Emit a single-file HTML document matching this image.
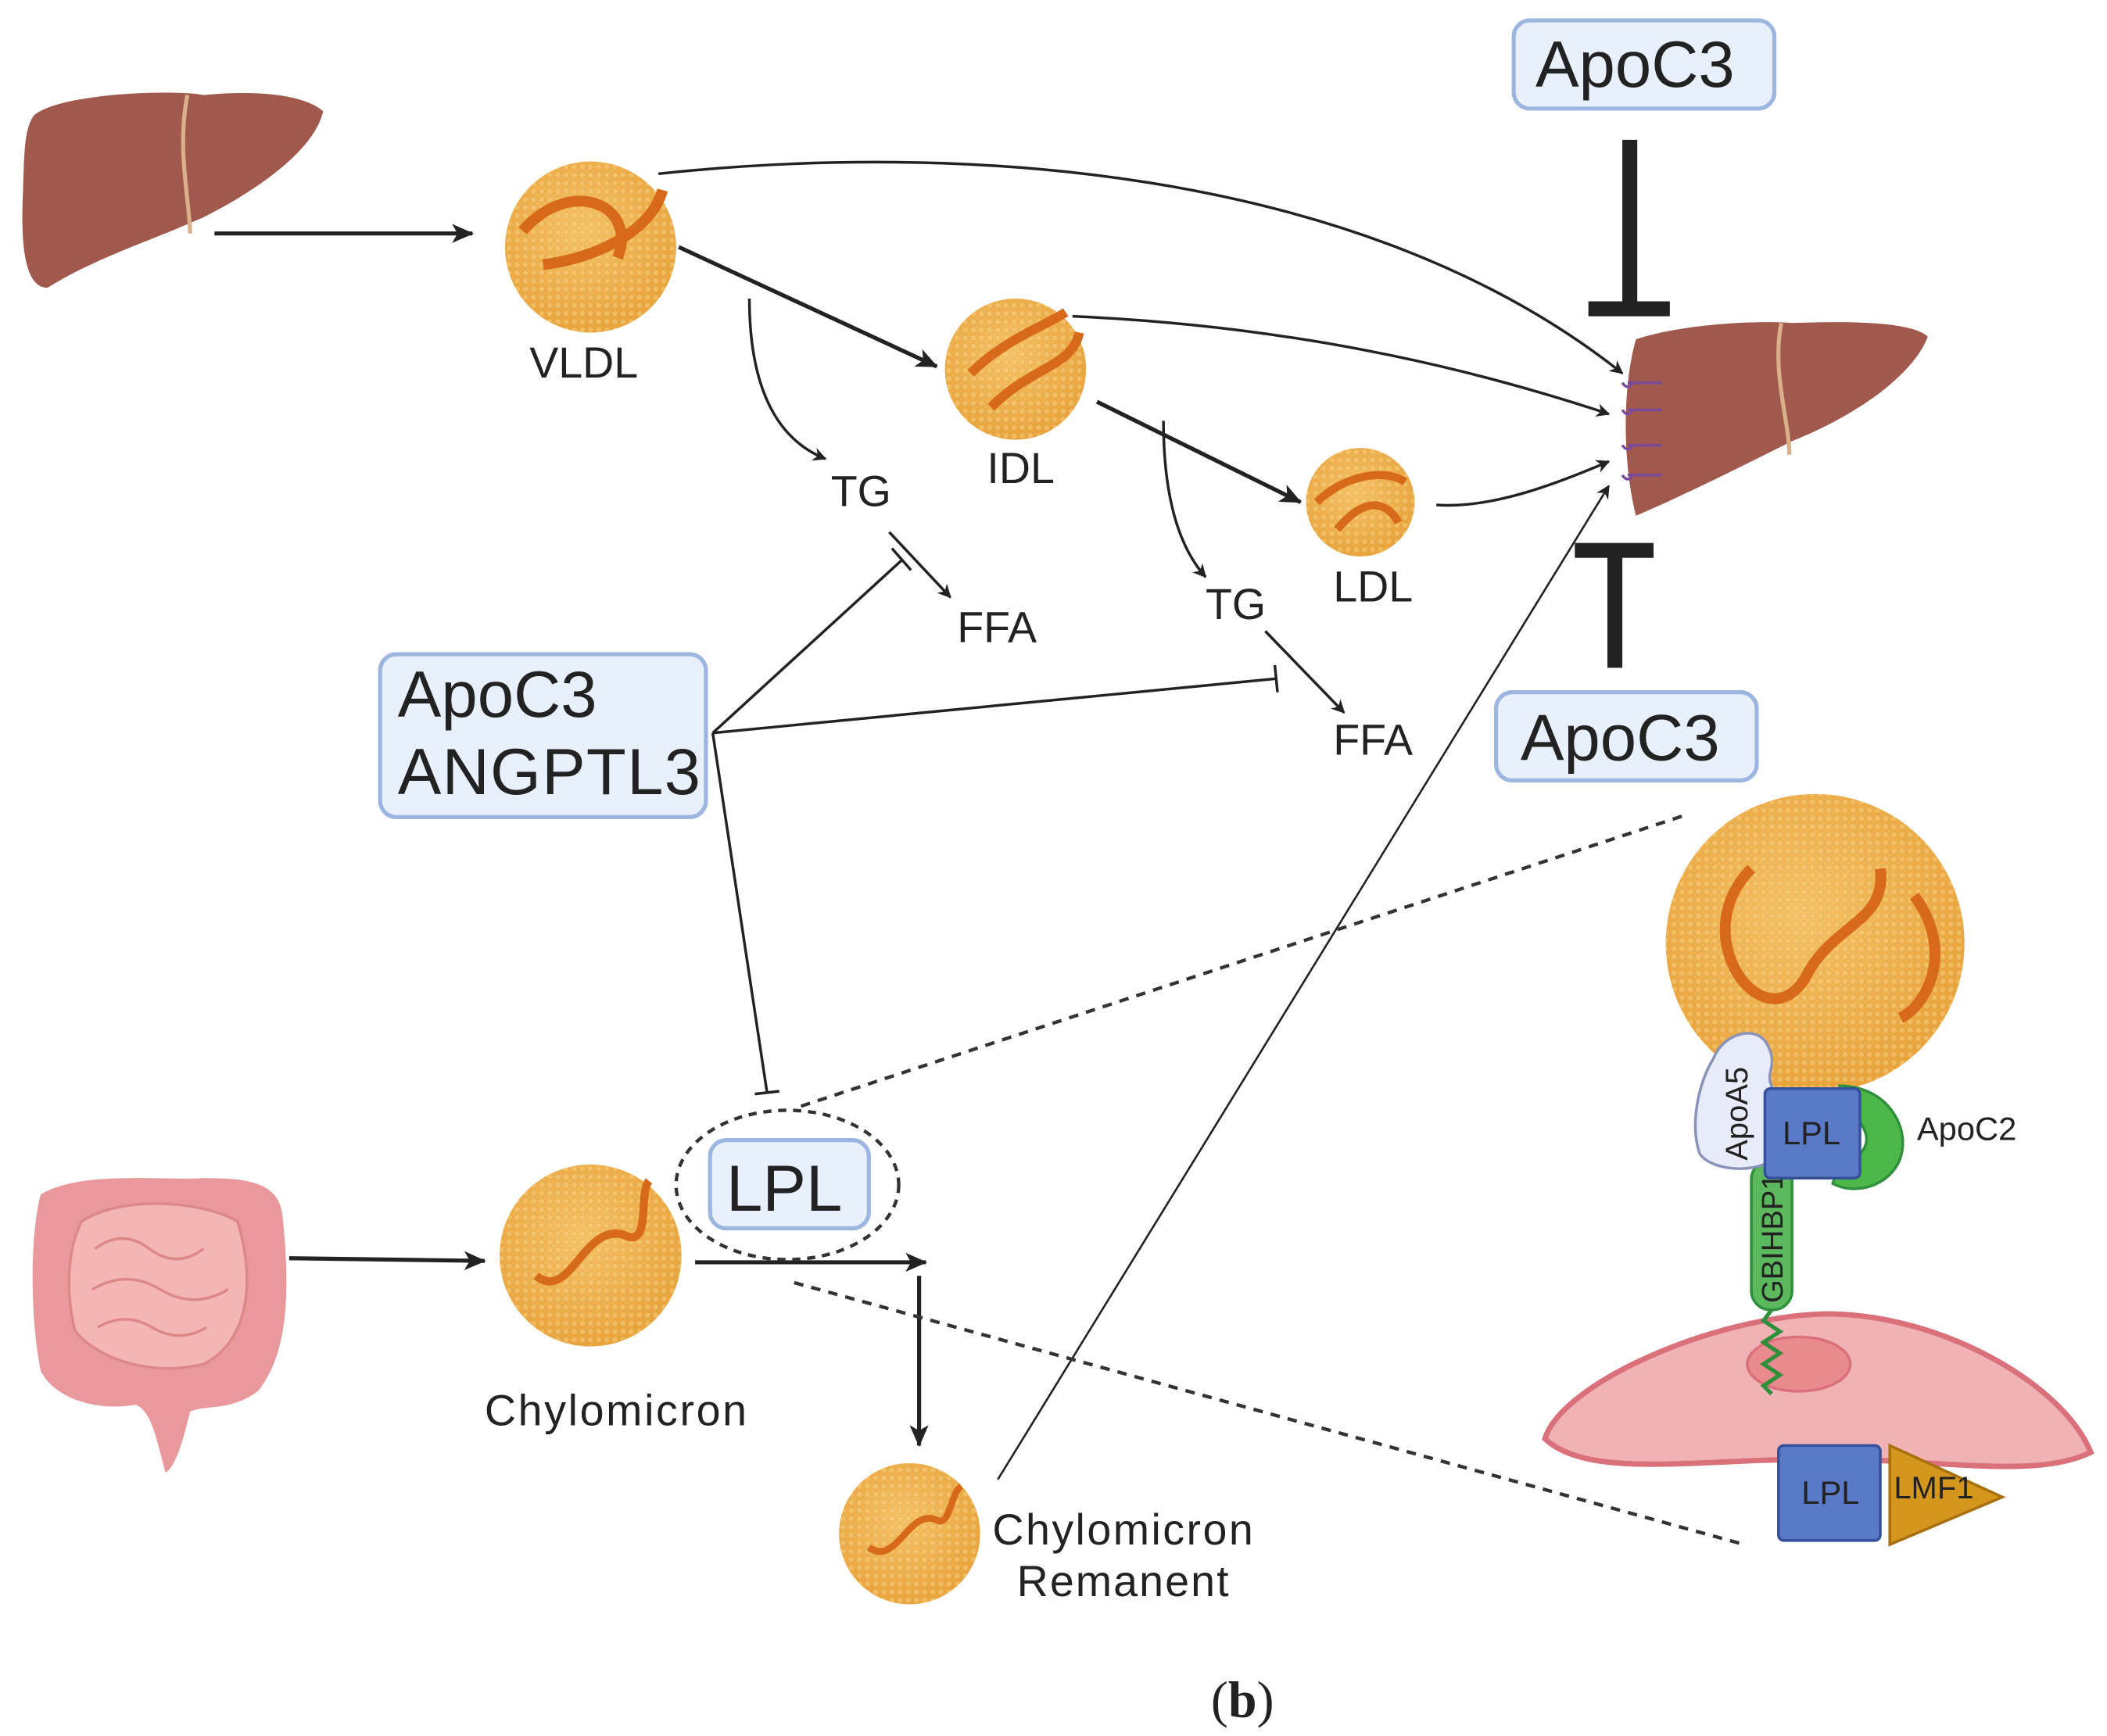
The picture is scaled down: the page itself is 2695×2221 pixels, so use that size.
<!DOCTYPE html>
<html><head><meta charset="utf-8"><style>
html,body{margin:0;padding:0;background:#fff;}
svg{display:block;}
text{font-family:"Liberation Sans",sans-serif;fill:#222;}
</style></head><body>
<svg width="2695" height="2221" viewBox="0 0 1552 1279" xmlns="http://www.w3.org/2000/svg">
<defs>
<marker id="ar" markerWidth="10" markerHeight="10" refX="9" refY="5" orient="auto" markerUnits="userSpaceOnUse" viewBox="0 0 10 10"><path d="M0,0 L10,5 L0,10 L3,5 z" fill="#222"/></marker>
<marker id="arS" markerWidth="16" markerHeight="16" refX="15" refY="8" orient="auto" markerUnits="userSpaceOnUse" viewBox="0 0 16 16"><path d="M0,1 L16,8 L0,15 L4,8 z" fill="#222"/></marker>
<radialGradient id="pg" cx="45%" cy="40%" r="60%"><stop offset="0" stop-color="#f6c46a"/><stop offset="1" stop-color="#e9a43c"/></radialGradient>
<pattern id="dots" width="6" height="6" patternUnits="userSpaceOnUse"><circle cx="3" cy="3" r="2.2" fill="#f7cf80" stroke="#e0a040" stroke-width="0.5"/></pattern>
</defs>

<!-- livers -->
<path d="M25,85 C45,68 130,66 150,70 C190,66 225,70 238,82 C232,110 190,140 150,160 C110,178 70,190 35,212 C18,212 15,180 17,140 C18,110 18,95 25,85 z" fill="#a0594c"/>
<path d="M138,70 C130,110 140,150 140,172" stroke="#d9b08a" stroke-width="3" fill="none"/>
<path d="M1205,250 C1240,238 1300,236 1320,238 C1370,236 1410,238 1420,248 C1410,275 1370,305 1320,325 C1280,345 1240,365 1205,380 C1195,340 1195,285 1205,250 z" fill="#a0594c"/>
<path d="M1312,238 C1305,275 1318,310 1318,335" stroke="#d9b08a" stroke-width="3" fill="none"/>
<g stroke="#7a4a9a" stroke-width="2" fill="none">
<path d="M1195,282 q4,6 8,0 M1199,282 h25"/><path d="M1195,302 q4,6 8,0 M1199,302 h25"/><path d="M1195,328 q4,6 8,0 M1199,328 h25"/><path d="M1195,350 q4,6 8,0 M1199,350 h25"/>
</g>

<!-- intestine -->
<path d="M30,880 C60,862 120,870 150,868 C180,868 205,870 208,895 C215,960 210,1000 190,1025 C170,1040 150,1035 140,1040 C135,1060 130,1080 122,1085 C115,1060 112,1040 100,1035 C70,1040 40,1030 30,1010 C22,970 22,910 30,880 z" fill="#e9999c"/>
<path d="M60,900 C90,880 150,885 175,900 C190,950 180,990 150,1005 C110,1015 70,1000 55,980 C48,950 50,920 60,900 z" fill="#f4b5b5" stroke="#d88" stroke-width="2"/>
<path d="M70,920 q20,-15 40,0 q20,15 40,0 M68,950 q25,-15 50,0 q25,15 50,0 M72,978 q20,-12 40,0 q20,12 40,0" stroke="#d88" stroke-width="2" fill="none"/>

<!-- particles -->
<g>
<circle cx="435" cy="182" r="63" fill="url(#pg)"/><circle cx="435" cy="182" r="63" fill="url(#dots)" opacity="0.5"/>
<path d="M385,170 C420,130 470,150 455,190 M400,195 C440,190 480,170 488,140" stroke="#d66a1a" stroke-width="8" fill="none"/>
<circle cx="748" cy="272" r="52" fill="url(#pg)"/><circle cx="748" cy="272" r="52" fill="url(#dots)" opacity="0.5"/>
<path d="M715,275 C740,250 770,240 785,230 M730,300 C760,270 790,270 795,245" stroke="#d66a1a" stroke-width="7" fill="none"/>
<circle cx="1002" cy="370" r="40" fill="url(#pg)"/><circle cx="1002" cy="370" r="40" fill="url(#dots)" opacity="0.5"/>
<path d="M970,370 C990,350 1020,345 1035,355 M985,390 C1010,360 1025,375 1030,385" stroke="#d66a1a" stroke-width="6" fill="none"/>
<circle cx="435" cy="925" r="67" fill="url(#pg)"/><circle cx="435" cy="925" r="67" fill="url(#dots)" opacity="0.5"/>
<path d="M395,940 C420,960 430,900 460,910 C480,920 470,880 478,870" stroke="#d66a1a" stroke-width="6" fill="none"/>
<circle cx="670" cy="1130" r="52" fill="url(#pg)"/><circle cx="670" cy="1130" r="52" fill="url(#dots)" opacity="0.5"/>
<path d="M640,1140 C660,1155 670,1110 690,1120 C700,1125 700,1100 708,1095" stroke="#d66a1a" stroke-width="5" fill="none"/>
<circle cx="1337" cy="695" r="110" fill="url(#pg)"/><circle cx="1337" cy="695" r="110" fill="url(#dots)" opacity="0.5"/>
<path d="M1290,640 C1240,690 1300,770 1330,720 C1350,680 1390,680 1385,640 M1410,660 C1440,700 1420,740 1400,750" stroke="#d66a1a" stroke-width="8" fill="none"/>
</g>

<!-- labels -->
<g font-size="32">
<text x="390" y="278">VLDL</text><text x="727" y="356">IDL</text><text x="982" y="443">LDL</text>
<text x="612" y="373">TG</text><text x="705" y="473">FFA</text>
<text x="888" y="456">TG</text><text x="982" y="556">FFA</text>
<text x="357" y="1050" textLength="193">Chylomicron</text>
<text x="731" y="1138" textLength="192">Chylomicron</text><text x="749" y="1176" textLength="156">Remanent</text>
</g>

<!-- arrows -->
<g stroke="#222" stroke-width="3" fill="none">
<line x1="158" y1="172" x2="348" y2="172" marker-end="url(#arS)"/>
<line x1="500" y1="182" x2="690" y2="270" marker-end="url(#arS)"/>
<line x1="808" y1="296" x2="958" y2="370" marker-end="url(#arS)"/>
<line x1="213" y1="927" x2="357" y2="929" marker-end="url(#arS)"/>
<line x1="512" y1="930" x2="682" y2="930" marker-end="url(#arS)"/>
<line x1="677" y1="940" x2="677" y2="1065" marker-end="url(#arS)"/>
</g>
<g stroke="#222" stroke-width="2" fill="none">
<path d="M552,220 C552,290 575,325 608,338" marker-end="url(#ar)"/>
<line x1="655" y1="392" x2="700" y2="440" marker-end="url(#ar)"/>
<path d="M857,310 C857,370 870,405 888,425" marker-end="url(#ar)"/>
<line x1="932" y1="465" x2="990" y2="525" marker-end="url(#ar)"/>
<path d="M485,128 C700,105 1000,120 1195,275" marker-end="url(#ar)"/>
<path d="M790,233 C950,240 1080,270 1185,305" marker-end="url(#ar)"/>
<path d="M1058,372 C1100,375 1150,355 1185,340" marker-end="url(#ar)"/>
<line x1="735" y1="1090" x2="1185" y2="358" stroke-width="1.5" marker-end="url(#ar)"/>
<line x1="525" y1="540" x2="665" y2="412"/><line x1="657" y1="404" x2="671" y2="420"/>
<line x1="525" y1="540" x2="940" y2="500"/><line x1="939" y1="490" x2="941" y2="510"/>
<line x1="525" y1="540" x2="565" y2="805"/><line x1="556" y1="806" x2="574" y2="804"/>
</g>
<g fill="#222">
<rect x="1195" y="103" width="11" height="122"/><rect x="1170" y="222" width="60" height="11"/>
<rect x="1160" y="400" width="58" height="11"/><rect x="1184" y="405" width="11" height="87"/>
</g>

<!-- boxes -->
<g fill="#e8f0fb" stroke="#9cb6e0" stroke-width="3">
<rect x="1115" y="15" width="192" height="65" rx="12"/>
<rect x="1102" y="510" width="192" height="65" rx="12"/>
<rect x="280" y="482" width="240" height="120" rx="12"/>
<rect x="523" y="840" width="117" height="65" rx="12"/>
</g>
<g font-size="48">
<text x="1131" y="64">ApoC3</text><text x="1120" y="560">ApoC3</text>
<text x="293" y="528">ApoC3</text><text x="293" y="585" textLength="223">ANGPTL3</text>
<text x="535" y="892">LPL</text>
</g>
<ellipse cx="580" cy="873" rx="82" ry="55" fill="none" stroke="#333" stroke-width="2.5" stroke-dasharray="6,5"/>
<g stroke="#333" stroke-width="2.5" stroke-dasharray="7,6">
<line x1="590" y1="815" x2="1243" y2="600"/><line x1="585" y1="945" x2="1285" y2="1138"/>
</g>

<!-- right detail -->
<path d="M1138,1060 C1150,1020 1260,970 1345,968 C1430,968 1520,1020 1540,1070 C1500,1090 1430,1075 1340,1075 C1250,1075 1170,1090 1138,1060 z" fill="#f0b2b4" stroke="#d9707a" stroke-width="4"/>
<ellipse cx="1325" cy="1005" rx="38" ry="20" fill="#e98a8e" stroke="#d9707a" stroke-width="2"/>
<path d="M1305,965 l-6,8 l12,8 l-12,8 l12,8 l-12,8 l12,8 l-12,8 l6,6" stroke="#2f8f3a" stroke-width="3" fill="none"/>
<rect x="1290" y="855" width="30" height="110" rx="14" fill="#5cb85c" stroke="#2f8f3a" stroke-width="2"/>
<text transform="translate(1313,960) rotate(-90)" font-size="22">GBIHBP1</text>
<path d="M1262,780 C1270,760 1295,755 1302,770 C1310,785 1300,790 1305,800 L1305,855 C1290,865 1260,862 1252,850 C1245,830 1250,800 1262,780 z" fill="#e8ecfa" stroke="#8a93b8" stroke-width="2"/>
<text transform="translate(1287,855) rotate(-90)" font-size="23">ApoA5</text>
<path d="M1355,800 C1395,800 1412,840 1395,862 C1385,875 1365,880 1350,872 L1355,855 C1375,855 1385,835 1360,818 z" fill="#4cb84a" stroke="#2f8f3a" stroke-width="2"/>
<rect x="1300" y="802" width="70" height="66" rx="4" fill="#5a7ac8" stroke="#34509a" stroke-width="2"/>
<text x="1313" y="843" font-size="24">LPL</text>
<text x="1412" y="840" font-size="24">ApoC2</text>
<rect x="1310" y="1065" width="75" height="70" rx="4" fill="#5a7ac8" stroke="#34509a" stroke-width="2"/>
<text x="1327" y="1108" font-size="24">LPL</text>
<path d="M1392,1065 L1475,1103 L1392,1138 z" fill="#d4961c" stroke="#a8700c" stroke-width="2"/>
<text x="1395" y="1104" font-size="23">LMF1</text>

<text x="892" y="1265" font-size="38" style="font-family:'Liberation Serif',serif">(<tspan font-weight="bold">b</tspan>)</text>
</svg>
</body></html>
